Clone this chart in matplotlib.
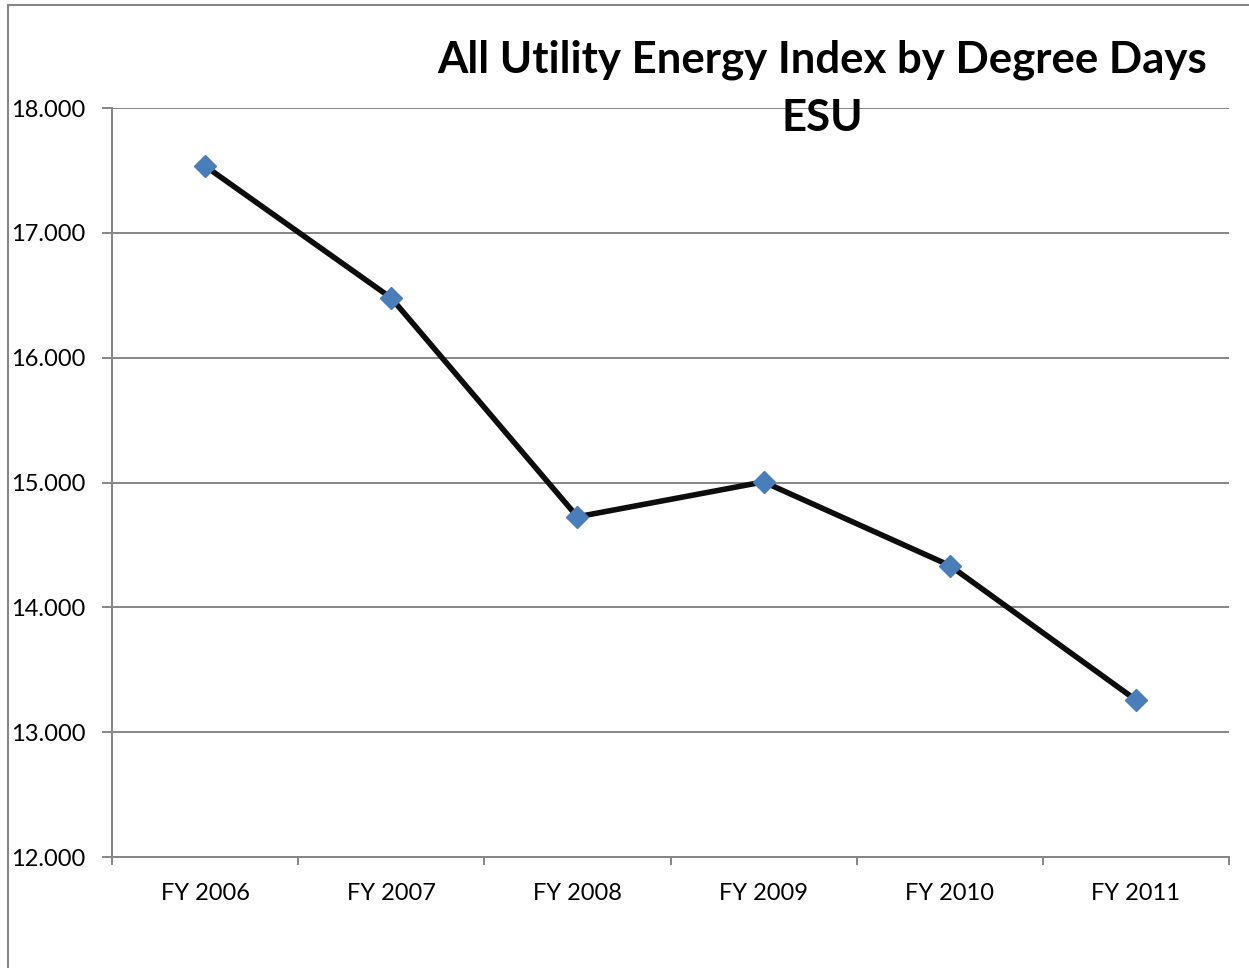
import matplotlib.pyplot as plt
from matplotlib.patches import Rectangle
import numpy as np

years = ["FY 2006", "FY 2007", "FY 2008", "FY 2009", "FY 2010", "FY 2011"]
index_values = [17.535, 16.478, 14.725, 15.005, 14.335, 13.258]
y_ticks = [12, 13, 14, 15, 16, 17, 18]

plt.rcParams["font.family"] = ["Lato", "DejaVu Sans"]

fig = plt.figure(figsize=(12.49, 9.68), dpi=100)
W, H = 1249, 968

# outer chart-area border (cropped on right/bottom)
fig.patches.append(Rectangle((8 / W, -0.1), 1.2, 1 - 5 / H + 0.1,
                             transform=fig.transFigure, fill=False,
                             edgecolor="#868686", linewidth=1.5))

ax = fig.add_axes([112 / W, (H - 857) / H, (1229 - 112) / W, (857 - 108) / H])

x = np.arange(len(years))
ax.plot(x, index_values, color="#0d0d0d", linewidth=4, marker="D",
        markersize=11, markerfacecolor="#4a7ebb", markeredgecolor="#4a7ebb",
        zorder=3)

ax.set_xlim(-0.5, len(years) - 0.5)
ax.set_ylim(12, 18)
ax.set_yticks(y_ticks)
ax.set_yticklabels([f"{v:.3f}" for v in y_ticks], fontsize=17)
ax.yaxis.grid(True, color="#868686", linewidth=1.4)
ax.set_axisbelow(True)

ax.set_xticks(x)
ax.set_xticklabels(years, fontsize=17)
ax.tick_params(axis="x", length=0, pad=19)
ax.set_xticks(np.arange(-0.5, len(years)), minor=True)
ax.tick_params(axis="x", which="minor", length=6, color="#868686", width=1.4)
ax.tick_params(axis="y", length=7, color="#868686", width=1.4, pad=12)

for s in ["top", "right"]:
    ax.spines[s].set_visible(False)
for s in ["left", "bottom"]:
    ax.spines[s].set_color("#868686")
    ax.spines[s].set_linewidth(1.4)

fig.text(822 / W, 1 - 60 / H, "All Utility Energy Index by Degree Days",
         ha="center", va="center", fontsize=31.5, fontweight="bold")
fig.text(822 / W, 1 - 118 / H, "ESU",
         ha="center", va="center", fontsize=31.5, fontweight="bold")

fig.savefig("out.png", dpi=100)
